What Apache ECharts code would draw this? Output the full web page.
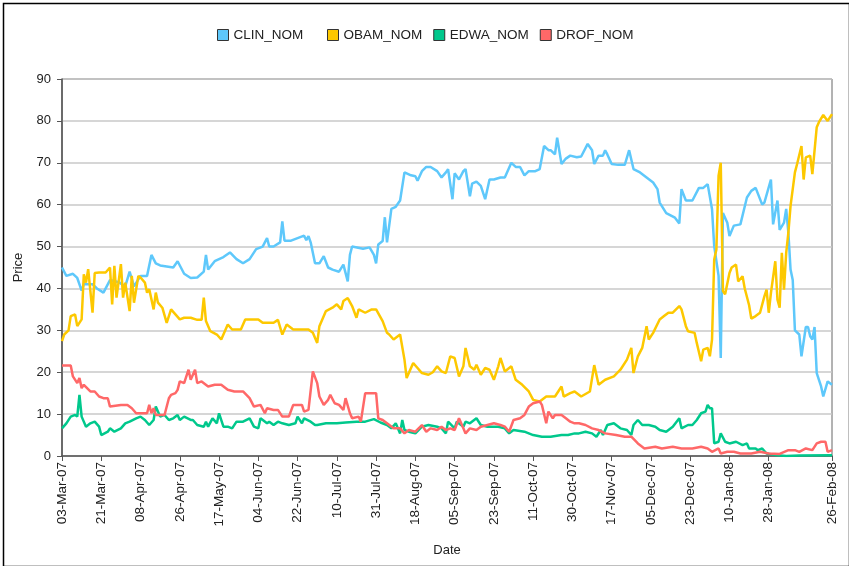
<!DOCTYPE html>
<html>
<head>
<meta charset="utf-8">
<script src="https://cdn.jsdelivr.net/npm/echarts/dist/echarts.min.js"></script>
<style>
html,body{margin:0;padding:0;background:#fff;}
#c{width:849px;height:566px;}
</style>
</head>
<body>
<div id="c"></div>
<script>
// Tick positions (trading-day index) and their labels
const tickIndex = [0,18,36,54,72,90,108,126,144,162,180,198,216,234,252,270,288,306,324,353];
const tickLabels = ['03-Mar-07','21-Mar-07','08-Apr-07','26-Apr-07','17-May-07','04-Jun-07','22-Jun-07','10-Jul-07','31-Jul-07','18-Aug-07','05-Sep-07','23-Sep-07','11-Oct-07','30-Oct-07','17-Nov-07','05-Dec-07','23-Dec-07','10-Jan-08','28-Jan-08','26-Feb-08'];
const seriesNames = ['CLIN_NOM','OBAM_NOM','EDWA_NOM','DROF_NOM'];

// [day index, price]
const clinNom = [[0,45],[2,43],[5,43.5],[7,42.5],[9,39.5],[10,41],[14,41],[16,40],[19,39],[22,42],[26,41.5],[29,40.5],[31,44],[33,40.5],[36,43],[39,43],[41,48],[43,46],[45,45.5],[51,45],[53,46.5],[56,43.5],[59,42.5],
[62,42.6],[65,44],[66,48],[67,44.5],[70,46.5],[74,47.5],[77,48.6],[80,47],[83,46],[86,47],[89,49.4],[92,50],[94,52],[95,50],[97,50],[100,51],[101,56],[102,51.4],[105,51.4],[108,52],[111,52.6],[112,51.5],[113,52.5],[114,51],[116,46],
[118,46],[120,47.7],[122,45],[124,44.5],[127,44],[129,45.7],[131,41.7],[132,48],[133,50],[138,49.5],[141,49.8],[143,48],[144,46],[145,50.5],[147,51.3],[148,57],[149,51],[151,59],[153,59.5],[155,61],[157,67.7],[160,67],[162,66.8],[163,65.7],[165,68],[167,69],[169,69],[172,68],[174,66.5],[176,67.7],
[177,68.5],[179,61.3],[180,67.5],[182,66],[184,68],[185,68.5],[187,62],[188,65],[190,65.5],[192,64.5],[194,61.3],[196,66],[198,66],[201,66.5],[203,66.5],[206,70],[208,69],[210,69],[212,67],[214,68],[217,68],[219,68.5],[221,74],[223,73],[224,73],[226,72],[227,76],[229,69.7],[231,71],[233,71.7],
[236,71.3],[238,71.5],[241,74.5],[243,73],[244,69.7],[246,71.7],[248,71.7],[249,73],[250,72],[252,69.7],[255,69.5],[258,69.5],[260,73],[262,68.5],[265,67.7],[268,66.5],[271,65.3],[273,63.7],[274,60.5],[277,58],[281,56.9],[283,55.5],[284,63.7],[286,61],[289,61],[292,64],
[294,64],[296,64.9],[298,58.9],[299,50.1],[301,43],[302,23.4],[303,58],[305,55.7],[306,52.5],[308,55],[311,55.3],[314,61.7],[316,63.3],[318,64],[321,60],[322,60.5],[325,66],[326,55.3],[328,61],[329,54],[331,55.7],[332,59],[333,53.3],[334,44.5],[335,42],[336,30],[338,29],[339,23.8],[341,30.8],[342,30.8],[343,28.6],[344,27.8],[345,30.8],[346,19.8],[348,16.6],[349,14.2],[351,17.8],[353,17]];

const obamNom = [[0,27.4],[1,29],[3,30],[4,33.4],[6,33.8],[7,31],[9,32.6],[10,43.4],[11,41.4],[12,44.6],[14,34.2],[15,43.7],[17,43.8],[20,43.8],[22,45],[23,36.2],[24,45.4],[25,37.8],[27,45.8],[28,37.8],[29,41.4],[31,34.6],[32,43],[33,36.6],[35,43],[36,42.6],[38,41.4],[39,39],[40,39.8],[42,35],[43,39],[44,36.6],[46,35.4],[48,31.8],[50,35],[52,33.8],[54,32.6],[56,33],[59,33],
[62,32.5],[64,32.5],[65,37.8],[66,32.2],[68,29.8],[71,29],[73,27.8],[75,30.2],[76,31.4],[78,30.2],[82,30.2],[84,32.6],[90,32.6],[92,31.8],[97,31.8],[99,32.5],[101,29],[103,31.4],[106,30.2],[110,30.2],[113,30.2],[115,29.4],[117,27],
[118,31],[121,34.6],[124,35.4],[126,36.2],[128,35],[129,37],[131,37.7],[133,35.8],[135,33],[136,35],[139,34.2],[142,35],[144,35],[147,32.2],[149,29.4],[150,29],[152,27.8],[155,29],[157,23],[158,18.6],[161,22.2],[163,21],[165,19.8],[168,19.4],[170,20],[172,21.4],[174,20.2],[176,19.8],
[178,23.8],[180,23.4],[182,19],[184,21.4],[185,25.8],[187,21.4],[189,20.6],[190,21.8],[192,19.4],[194,21],[196,20.6],[198,18.2],[200,21.4],[201,23.4],[203,20.2],[204,20.6],[206,21.4],[208,18.2],[211,17],[214,15.4],[216,13.4],[219,13],[222,14.2],[226,14.2],[229,16.6],[230,14.2],[233,15],[235,15.4],
[238,14.2],[242,15.4],[244,21.7],[246,17],[249,18.2],[253,19],[256,20.6],[259,23],[261,25.8],[262,19.8],[264,23.8],[266,25.8],[268,31],[269,27.8],[271,29.4],[274,32.6],[276,33.4],[278,34.2],[280,34.2],[283,35.8],[284,35],[286,31],[287,29.8],[290,29.4],[291,27],[293,22.6],
[294,25.4],[296,25.8],[297,23.8],[298,27.8],[299,46.9],[300,49.3],[301,66.9],[302,70],[303,39.4],[304,38.6],[306,43.7],[307,45],[309,45.7],[310,41.7],[312,42.9],[313,40],[315,36],[316,32.8],[318,33.4],[320,34.2],[322,38.1],[323,39.7],[324,34.2],[325,38.9],[327,46.5],[328,37.3],[329,35.4],[330,48.5],[331,39.7],[332,48.5],[333,53.3],[334,59.7],[336,67.7],[337,69.7],[339,74],[340,66],[341,71.3],[343,71.7],[344,67.3],[346,78.5],[347,79.7],[349,81.4],[351,80],[353,81.6]];

const edwaNom = [[0,6.6],[2,7.8],[4,9.4],[6,9.8],[7,9.4],[8,14.6],[9,9.4],[11,7],[13,7.8],[15,8.2],[17,7],[18,5],[21,5.8],[22,6.6],[24,5.8],[27,6.6],[29,7.8],[31,8.2],[34,9],[36,9.4],[38,8.6],[40,7.4],[42,8.6],[43,11.8],[45,9.4],[47,9.8],[49,8.6],[51,9],[53,9.8],[54,8.6],[56,9.4],[59,8.6],
[60,8.6],[62,7.4],[65,7],[66,8.2],[67,7],[69,9],[71,7.8],[72,10.2],[74,7],[76,7],[78,6.6],[80,8.2],[83,8.2],[86,9],[88,7],[90,6.6],[91,9],[94,7.8],[95,8.2],[97,7.4],[99,8.2],[101,7.8],[104,7.4],[107,7.8],[108,9.4],[110,7.8],[111,9],[114,8.2],[116,7.4],
[117,7.4],[121,7.8],[126,7.8],[130,8],[135,8.2],[139,8.2],[143,8.8],[146,8],[149,7.4],[151,6.6],[153,7.8],[155,5.4],[156,8.6],[157,6.2],[159,5.8],[162,5.4],[165,7],[168,7.4],[172,7],[174,6.6],[176,5.4],
[177,8.2],[180,6.6],[181,8.2],[184,7],[185,8.2],[187,7.8],[190,9],[192,7.4],[195,7],[200,7],[203,6.6],[205,5.4],[207,6.2],[212,5.8],[216,5],[220,4.6],[224,4.6],[229,5],[232,5],[235,5.4],
[237,5.4],[240,5.8],[243,5.4],[245,4.6],[247,6.2],[248,5],[250,7.4],[253,7.8],[256,6.6],[259,6.2],[261,5],[262,7.4],[264,8.6],[266,7.4],[269,7.4],[272,7],[274,6.2],[277,5.8],[280,7],[283,9],[284,6.6],[287,7.4],[289,7.4],[291,8.6],[293,10.2],
[295,10.6],[296,12.2],[297,11.4],[298,11.4],[299,3],[301,3.4],[302,5.4],[304,3.4],[306,3],[309,3.4],[312,2.6],[314,3],[315,1.8],[318,1.8],[319,1.4],[321,1.8],[323,0.6],[328,0.2],[332,0],[338,0.1],[353,0.2]];

const drofNom = [[0,21.6],[4,21.6],[5,19],[7,17.4],[8,18.6],[9,16.2],[10,17],[13,15.4],[15,15.4],[17,14.2],[19,13.8],[21,13.8],[22,11.8],[27,12.2],[30,12.2],[32,11.4],[34,10.2],[39,10.2],[40,12.2],[41,10.2],[42,11.4],[43,9.8],[47,9.8],[49,13.8],[50,14.6],[52,15],[53,15.8],[54,17.8],[56,17.4],[58,20.6],
[59,18.2],[61,20.6],[62,17.4],[64,17.8],[67,16.6],[70,17],[73,17],[76,15.8],[79,15.4],[83,15.4],[86,13.8],[88,11.8],[91,12.2],[93,10.2],[94,11.4],[97,11],[99,11],[101,9.4],[104,9.4],[106,12.2],[110,12.2],[111,10.6],[113,11],[115,20.2],[117,17.4],
[118,14.2],[120,12.2],[122,13.4],[123,14.6],[125,12.6],[127,12.2],[129,11],[130,13.8],[132,10.2],[133,9],[136,9.4],[137,8.2],[139,15],[144,15],[145,9],[147,8.6],[149,7.8],[152,6.6],[155,6.6],[157,5.4],[159,6.2],[162,5.8],[165,7.4],[167,5.8],[169,6.6],[172,6.2],[174,7],[176,6.2],
[178,6.6],[180,6.2],[182,9],[184,6.6],[185,5.4],[187,6.6],[190,6.2],[192,7],[195,7.4],[198,7.8],[201,7.4],[203,7],[205,5.8],[207,8.6],[210,9],[212,9.8],[214,11.8],[216,12.6],[219,13],[220,12.2],[222,7.8],[223,10.6],[225,9],[226,9.8],[229,9.8],[231,9],[233,8.2],[235,7.8],
[237,7.8],[240,7.4],[243,6.6],[246,6.2],[249,5.4],[254,5],[258,4.6],[261,4.6],[264,3],[267,1.8],[272,2.2],[275,1.8],[280,2.2],[284,1.8],[289,1.8],[293,2.2],
[296,1.8],[298,1],[301,1.8],[302,0.6],[305,1],[308,1],[311,0.6],[316,0.6],[320,1],[324,0.6],[329,0.5],[333,1.4],[336,1.4],[338,1],[341,1.8],[344,1.4],[346,3],[348,3.4],[350,3.4],[351,1],[353,1.4]];

const colors = ['#5ec8fb','#fdc800','#00c88c','#ff6868'];
const seriesData = [clinNom, obamNom, edwaNom, drofNom];

const chart = echarts.init(document.getElementById('c'), null, {renderer:'canvas'});
const font = "'Liberation Sans', Arial, sans-serif";
const legendBase = {
  top: 28, padding: 0, icon: 'rect', itemWidth: 11, itemHeight: 11, itemGap: 11,
  itemStyle: {borderColor: '#333', borderWidth: 1},
  textStyle: {fontSize: 13.5, color: '#222', fontFamily: font}
};
chart.setOption({
  animation: false,
  color: colors,
  textStyle: {fontFamily: font},
  graphic: [{
    type: 'rect', left: 1, top: 1,
    shape: {x: 0, y: 0, width: 846, height: 563},
    style: {fill: 'none', stroke: '#000', lineWidth: 1.5}
  }],
  legend: [
    Object.assign({}, legendBase, {left: 217, data: seriesNames.slice(0, 1)}),
    Object.assign({}, legendBase, {left: 327, data: seriesNames.slice(1)})
  ],
  grid: {left: 62, right: 17, top: 79, bottom: 110, show: true, borderColor: '#666', borderWidth: 1, containLabel: false},
  xAxis: {
    type: 'value', min: 0, max: 353,
    name: 'Date', nameLocation: 'middle', nameGap: 88,
    nameTextStyle: {fontSize: 13, color: '#222', fontFamily: font},
    axisLine: {show: true, onZero: false, lineStyle: {color: '#555', width: 1.5}},
    axisTick: {show: true, customValues: tickIndex, length: 5, lineStyle: {color: '#555'}},
    axisLabel: {
      customValues: tickIndex, rotate: 90, margin: 6,
      fontSize: 13.5, color: '#222', fontFamily: font,
      formatter: function (v) { const k = tickIndex.indexOf(Math.round(v)); return k >= 0 ? tickLabels[k] : ''; }
    },
    splitLine: {show: false}
  },
  yAxis: {
    type: 'value', min: 0, max: 90, interval: 10,
    name: 'Price', nameLocation: 'middle', nameGap: 37,
    nameTextStyle: {fontSize: 13, color: '#222', fontFamily: font},
    axisLine: {show: true, lineStyle: {color: '#555', width: 1.5}},
    axisTick: {show: true, length: 5, lineStyle: {color: '#555'}},
    axisLabel: {fontSize: 13, color: '#222', margin: 11, fontFamily: font},
    splitLine: {show: true, lineStyle: {color: '#c8c8c8', width: 1.5}}
  },
  series: seriesNames.map((n, k) => ({
    name: n, type: 'line', data: seriesData[k],
    showSymbol: false, symbol: 'none',
    lineStyle: {width: 2.5, color: colors[k]},
    itemStyle: {color: colors[k], borderColor: '#333', borderWidth: 1}
  }))
});
</script>
</body>
</html>
